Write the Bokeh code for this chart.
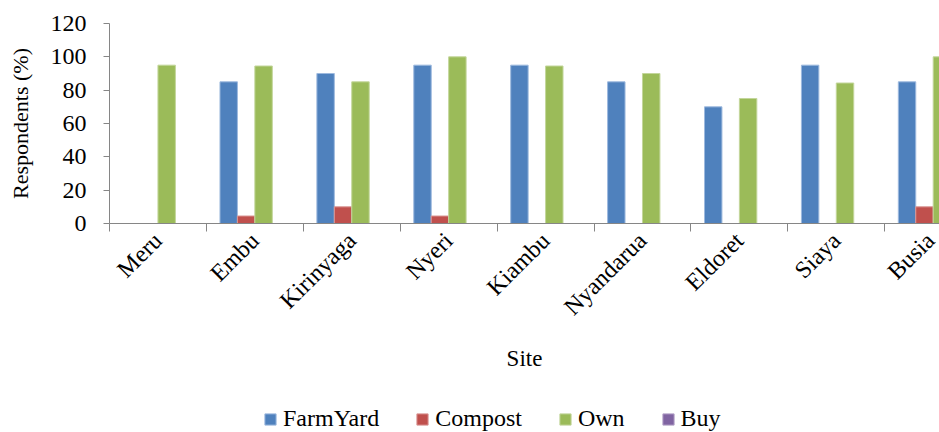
import numpy as np
from bokeh.plotting import figure
from bokeh.layouts import column
from bokeh.models import FixedTicker, Range1d, Legend, LegendItem, ColumnDataSource
from bokeh.embed import file_html
from bokeh.resources import INLINE

sites = ["Meru", "Embu", "Kirinyaga", "Nyeri", "Kiambu", "Nyandarua", "Eldoret", "Siaya", "Busia"]
farmyard = [0, 85, 90, 95, 95, 85, 70, 95, 85]
compost = [0, 4.5, 10, 4.5, 0, 0, 0, 0, 10]
own = [95, 94.5, 85, 100, 94.5, 90, 75, 84.3, 100]
buy = [0, 0, 0, 0, 0, 0, 0, 0, 0]
series_names = ["FarmYard", "Compost", "Own", "Buy"]
y_ticks = [0, 20, 40, 60, 80, 100, 120]

colors = ["#4F81BD", "#C0504D", "#9BBB59", "#8064A2"]
borders = ["#9DB9DE", "#D99694", "#C3D69B", "#B3A2C7"]
offsets = [0.23, 0.41, 0.59, 0.77]
bar_w = 0.18

FONT = "Liberation Serif"

p = figure(width=939, height=398, output_backend="svg", toolbar_location=None,
           x_range=Range1d(0, 8.565), y_range=Range1d(0, 120),
           min_border_left=109, min_border_right=0, min_border_top=23, min_border_bottom=175)
p.outline_line_color = None
p.xgrid.grid_line_color = None
p.ygrid.grid_line_color = None

for vals, name, c, b, off in zip([farmyard, compost, own, buy], series_names, colors, borders, offsets):
    tops = [v if v else np.nan for v in vals]
    src = ColumnDataSource(dict(x=np.arange(len(sites)) + off, top=tops))
    p.vbar(x="x", top="top", bottom=0, width=bar_w, source=src,
           fill_color=c, line_color=b, line_width=1)

# x axis
xa = p.xaxis[0]
xa.ticker = FixedTicker(ticks=[i + 0.5 for i in range(len(sites))],
                        minor_ticks=list(range(len(sites) + 1)))
xa.major_label_overrides = {i + 0.5: s for i, s in enumerate(sites)}
xa.major_label_orientation = np.pi / 4
xa.major_tick_out = 0
xa.major_tick_in = 0
xa.minor_tick_out = 8
xa.minor_tick_in = 0
xa.minor_tick_line_color = "#868686"
xa.axis_line_color = "#868686"
xa.major_label_text_font = FONT
xa.major_label_text_font_size = "24px"
xa.major_label_text_color = "black"
xa.axis_label = "Site"
xa.axis_label_text_font = FONT
xa.axis_label_text_font_size = "23px"
xa.axis_label_text_font_style = "normal"
xa.axis_label_text_color = "black"
xa.axis_label_standoff = 14

ya = p.yaxis[0]
ya.ticker = FixedTicker(ticks=y_ticks, minor_ticks=[])
ya.major_tick_out = 6
ya.major_tick_in = 0
ya.major_tick_line_color = "#868686"
ya.axis_line_color = "#868686"
ya.major_label_text_font = FONT
ya.major_label_text_font_size = "24px"
ya.major_label_text_color = "black"
ya.major_label_standoff = 17
ya.axis_label = "Respondents (%)"
ya.axis_label_text_font = FONT
ya.axis_label_text_font_size = "22px"
ya.axis_label_text_font_style = "normal"
ya.axis_label_text_color = "black"
ya.axis_label_standoff = 15

# legend strip
lg = figure(width=939, height=34, output_backend="svg", toolbar_location=None,
            x_range=Range1d(0, 1), y_range=Range1d(0, 1),
            x_axis_type=None, y_axis_type=None,
            min_border_left=0, min_border_right=0, min_border_top=0, min_border_bottom=0)
lg.outline_line_color = None
lg.xgrid.grid_line_color = None
lg.ygrid.grid_line_color = None
items = []
for name, c, b in zip(series_names, colors, borders):
    # legend-only renderer, placed outside the visible range
    r = lg.vbar(x=[5], top=[1], width=0.1, fill_color=c, line_color=b, line_width=1)
    items.append(LegendItem(label=name, renderers=[r]))
legend = Legend(items=items, orientation="horizontal", location=(154, 0),
                label_text_font=FONT, label_text_font_size="24px",
                label_text_color="black", glyph_width=14, glyph_height=14,
                label_standoff=6, spacing=36, padding=0, margin=0,
                border_line_color=None, background_fill_alpha=0)
lg.add_layout(legend, "center")

layout = column(p, lg, spacing=0)
open("out.html", "w").write(file_html(layout, INLINE))
